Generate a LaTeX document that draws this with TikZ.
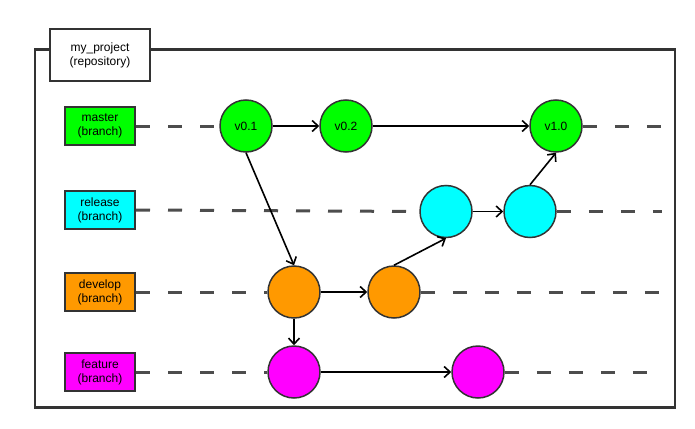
\documentclass[tikz,border=0pt]{standalone}
\usepackage{fontspec}
\setmainfont{Liberation Sans}
\usetikzlibrary{arrows.meta}
\definecolor{edgegray}{HTML}{333333}
\definecolor{dashgray}{HTML}{4D4D4D}
\definecolor{cgreen}{HTML}{00FF00}
\definecolor{ccyan}{HTML}{00FFFF}
\definecolor{corange}{HTML}{FF9900}
\definecolor{cmagenta}{HTML}{FF00FF}
\begin{document}
\begin{tikzpicture}[x=1pt,y=-1pt,
  lbl/.style={draw=edgegray,line width=2pt,minimum width=70pt,minimum height=38pt,inner sep=0pt,align=center,font=\fontsize{12}{14}\selectfont},
  commit/.style={circle,draw=edgegray,line width=1.5pt,minimum size=52pt,inner sep=0pt,font=\fontsize{12}{14}\selectfont},
  flow/.style={line width=1.6pt,-{Straight Barb[length=6pt,width=11pt,line width=1.6pt]}},
  lane/.style={draw=dashgray,line width=3pt,dash pattern=on 14pt off 18pt}]
\useasboundingbox (0,0) rectangle (695,428);
\draw[edgegray,line width=2.5pt] (35,49.5) rectangle (675,407.5);
\node[lbl,fill=white,minimum width=100pt,minimum height=51pt] (repo) at (100,55) {my\_project\\(repository)};
\node[lbl,fill=cgreen] (master) at (100,126) {master\\(branch)};
\node[lbl,fill=ccyan] (release) at (100,210) {release\\(branch)};
\node[lbl,fill=corange] (develop) at (100,292) {develop\\(branch)};
\node[lbl,fill=cmagenta] (feature) at (100,372) {feature\\(branch)};
\coordinate (mEnd) at (662,126);
\coordinate (rEnd) at (662,211.5);
\coordinate (dEnd) at (662,292);
\coordinate (fEnd) at (650,372);
\node[commit,fill=cgreen] (v01) at (246,126) {v0.1};
\node[commit,fill=cgreen] (v02) at (346,126) {v0.2};
\node[commit,fill=cgreen] (v10) at (556,126) {v1.0};
\node[commit,fill=ccyan] (r1) at (446,211.5) {};
\node[commit,fill=ccyan] (r2) at (530,211.5) {};
\node[commit,fill=corange] (d1) at (294,292) {};
\node[commit,fill=corange] (d2) at (394,292) {};
\node[commit,fill=cmagenta] (f1) at (294,372) {};
\node[commit,fill=cmagenta] (f2) at (478,372) {};
\draw[lane] (master.east) -- (v01.west);
\draw[lane] (v10.east) -- (mEnd);
\draw[lane] (release.east) -- (r1.west);
\draw[lane] (r2.east) -- (rEnd);
\draw[lane] (develop.east) -- (d1.west);
\draw[lane] (d2.east) -- (dEnd);
\draw[lane] (feature.east) -- (f1.west);
\draw[lane] (f2.east) -- (fEnd);
\draw[flow] (v01) -- (v02);
\draw[flow] (v02) -- (v10);
\draw[flow] (v01.south) -- (d1.north);
\draw[flow] (d1) -- (d2);
\draw[flow] (d2.north) -- (r1.south);
\draw[flow] (r1) -- (r2);
\draw[flow] (r2.north) -- (v10.south);
\draw[flow] (d1) -- (f1);
\draw[flow] (f1) -- (f2);
\end{tikzpicture}
\end{document}
